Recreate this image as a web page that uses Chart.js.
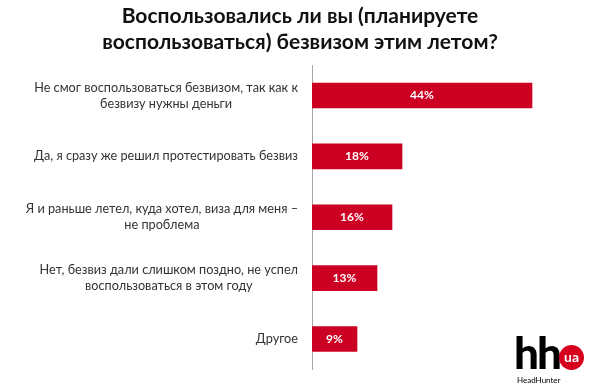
<!DOCTYPE html>
<html>
<head>
<meta charset="utf-8">
<script src="https://cdn.jsdelivr.net/npm/chart.js@4"></script>
<style>
  html, body { margin: 0; padding: 0; background: #fff; }
  #wrap { position: relative; width: 600px; height: 388px; }
  .logo { position: absolute; font-family: Lato, "Open Sans", sans-serif; }
  .logo-hh { left: 514px; top: 330px; font-size: 44px; font-weight: 900; color: #000; letter-spacing: -2px; line-height: 1; }
  .logo-ua { left: 559px; top: 345px; width: 25px; height: 25px; border-radius: 50%; background: #d6001c; color: #fff; font-size: 14px; font-weight: 700; text-align: center; line-height: 23px; }
  .logo-sub { left: 517px; top: 375px; font-size: 8px; color: #000; }
</style>
</head>
<body>
<div id="wrap">
  <canvas id="chart" width="600" height="388"></canvas>
  <div class="logo logo-hh">hh</div>
  <div class="logo logo-ua">ua</div>
  <div class="logo logo-sub">HeadHunter</div>
</div>
<script>
  // Chart data
  const titleLines = [
    "Воспользовались ли вы (планируете",
    "воспользоваться) безвизом этим летом?",
  ];
  const categories = [
    ["Не смог воспользоваться безвизом, так как к", "безвизу нужны деньги"],
    ["Да, я сразу же решил протестировать безвиз"],
    ["Я и раньше летел, куда хотел, виза для меня –", "не проблема"],
    ["Нет, безвиз дали слишком поздно, не успел", "воспользоваться в этом году"],
    ["Другое"],
  ];
  const shares = [44, 18, 16, 13, 9];

  const barColor = "#cc0022";
  const fontFamily = "Lato, 'Open Sans', sans-serif";

  // Category labels: each block right-aligned, lines centered inside it
  const categoryLabels = {
    id: "categoryLabels",
    afterDraw(chart) {
      const ctx = chart.ctx;
      const yScale = chart.scales.y;
      const rightEdge = yScale.right - 14;
      const lineHeight = 16;
      ctx.save();
      ctx.font = "12.7px " + fontFamily;
      ctx.fillStyle = "#333333";
      ctx.textAlign = "center";
      ctx.textBaseline = "middle";
      categories.forEach((lines, i) => {
        const y = yScale.getPixelForTick(i);
        const widest = Math.max(...lines.map((l) => ctx.measureText(l).width));
        const cx = rightEdge - widest / 2;
        const top = y - ((lines.length - 1) * lineHeight) / 2;
        lines.forEach((line, j) => {
          ctx.fillText(line, cx, top + j * lineHeight);
        });
      });
      ctx.restore();
    },
  };

  // Percent values inside bars
  const valueLabels = {
    id: "valueLabels",
    afterDatasetsDraw(chart) {
      const ctx = chart.ctx;
      const meta = chart.getDatasetMeta(0);
      ctx.save();
      ctx.font = "bold 12px " + fontFamily;
      ctx.fillStyle = "#ffffff";
      ctx.textAlign = "center";
      ctx.textBaseline = "middle";
      meta.data.forEach((bar, i) => {
        const cx = (bar.x + bar.base) / 2;
        ctx.fillText(shares[i] + "%", cx, bar.y);
      });
      ctx.restore();
    },
  };

  new Chart(document.getElementById("chart"), {
    type: "bar",
    data: {
      labels: categories,
      datasets: [
        {
          data: shares,
          backgroundColor: barColor,
          borderWidth: 0,
          barThickness: 25,
        },
      ],
    },
    options: {
      indexAxis: "y",
      responsive: false,
      animation: false,
      layout: {
        padding: { left: 0, right: 0, top: 3, bottom: 13 },
      },
      plugins: {
        legend: { display: false },
        tooltip: { enabled: false },
        title: {
          display: true,
          text: titleLines,
          color: "#111111",
          font: { family: fontFamily, size: 21, weight: "bold", lineHeight: 1.24 },
          padding: { top: 0, bottom: 10 },
        },
      },
      scales: {
        x: {
          display: false,
          min: 0,
          max: 57.6,
        },
        y: {
          afterFit(scale) {
            scale.width = 312;
          },
          grid: { display: false, drawTicks: false },
          border: { display: true, color: "#a6a6a6", width: 1 },
          ticks: { color: "rgba(0,0,0,0)", font: { size: 13 } },
        },
      },
    },
    plugins: [categoryLabels, valueLabels],
  });
</script>
</body>
</html>
